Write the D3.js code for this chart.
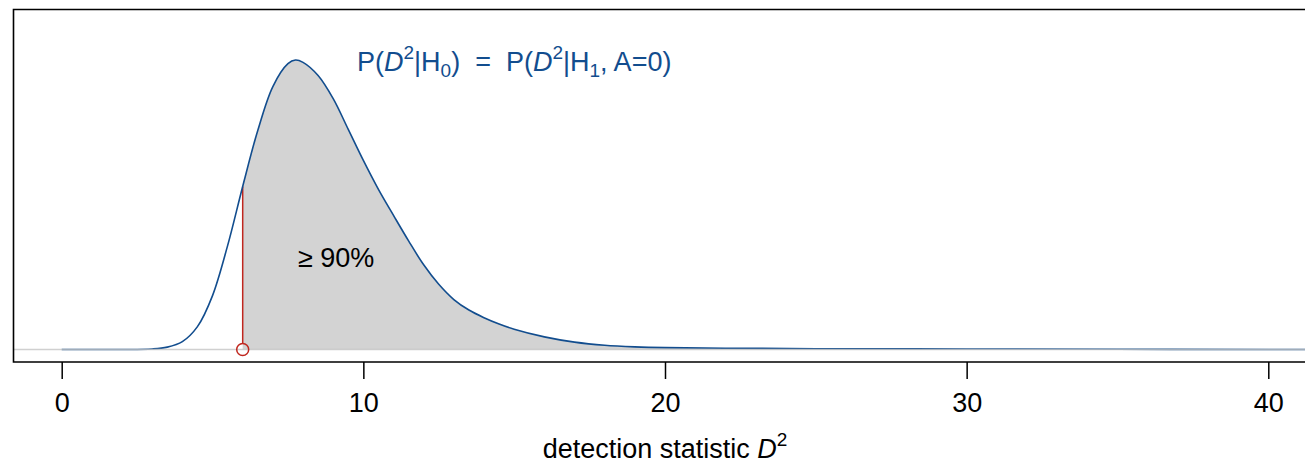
<!DOCTYPE html>
<html>
<head>
<meta charset="utf-8">
<script src="https://cdn.jsdelivr.net/npm/d3@7"></script>
<style>
  body { margin: 0; background: #fff; }
  svg { display: block; font-family: "Liberation Sans", Arial, Helvetica, sans-serif; }
</style>
</head>
<body>
<div id="chart"></div>
<script>
// density curve (x = D^2, y = density)
var xValues = [0, 1, 2, 3, 3.5, 4, 4.5, 5, 5.5, 6, 6.5, 7, 7.5, 7.75, 8, 8.5, 9, 9.5, 10, 10.5,
               11, 11.5, 12, 12.5, 13, 13.5, 14, 14.5, 15, 16, 17, 18, 19, 20, 22, 25, 30, 35, 40, 41.3];
var densValues = [0, 0, 0, 0.0002, 0.0009, 0.0030, 0.0087, 0.0205, 0.0395, 0.0620, 0.0833, 0.1000, 0.1087, 0.1101,
                  0.1092, 0.1042, 0.0954, 0.0837, 0.0719, 0.0609, 0.0510, 0.0413, 0.0322, 0.0248, 0.0190,
                  0.0150, 0.0121, 0.0097, 0.0077, 0.0048, 0.0028, 0.0016, 0.0010, 0.0007, 0.0005,
                  0.0003, 0.0002, 0.0001, 0, 0];
var threshold = 6;
var xTicks = [0, 10, 20, 30, 40];
var areaLabel = "\u2265 90%";

var W = 1305, H = 467;
var svg = d3.select("#chart").append("svg")
  .attr("width", W)
  .attr("height", H);

var x = d3.scaleLinear().domain([0, 40]).range([61.7, 1268.3]);
var y = d3.scaleLinear().domain([0, 0.1101]).range([349.5, 60]);

var data = xValues.map(function(d, i) { return {x: d, y: densValues[i]}; });

var curve = d3.curveCatmullRom.alpha(0.5);

// shaded tail above threshold
var thrY = densValues[xValues.indexOf(threshold)];
var tail = data.filter(function(d) { return d.x >= threshold; });
var area = d3.area().curve(curve)
  .x(function(d) { return x(d.x); })
  .y0(y(0))
  .y1(function(d) { return y(d.y); });
svg.append("path")
  .datum(tail)
  .attr("d", area)
  .attr("fill", "#d3d3d3");

// red marker at threshold
svg.append("line")
  .attr("x1", x(threshold)).attr("x2", x(threshold))
  .attr("y1", y(0) - 6).attr("y2", y(thrY))
  .attr("stroke", "#c0261e")
  .attr("stroke-width", 1.5);

// density line
var line = d3.line().curve(curve)
  .x(function(d) { return x(d.x); })
  .y(function(d) { return y(d.y); });
svg.append("path")
  .datum(data)
  .attr("d", line)
  .attr("fill", "none")
  .attr("stroke", "#124d8e")
  .attr("stroke-width", 1.6);

// zero line
svg.append("line")
  .attr("x1", 13).attr("x2", W)
  .attr("y1", y(0)).attr("y2", y(0))
  .attr("stroke", "#c4c4c4")
  .attr("stroke-opacity", 0.8)
  .attr("stroke-width", 1.5);

svg.append("circle")
  .attr("cx", x(threshold))
  .attr("cy", y(0))
  .attr("r", 6)
  .attr("fill", "none")
  .attr("stroke", "#c0261e")
  .attr("stroke-width", 1.5);

// box (open at the right side)
svg.append("path")
  .attr("d", "M" + W + ",9.5H13.5V362H" + W)
  .attr("fill", "none")
  .attr("stroke", "#000")
  .attr("stroke-width", 1.6);

// x axis
var axis = svg.append("g")
  .attr("transform", "translate(0,362)")
  .call(d3.axisBottom(x).tickValues(xTicks).tickSize(17).tickPadding(14).tickFormat(d3.format("d")));
axis.select(".domain").remove();
axis.selectAll(".tick line").attr("stroke", "#000").attr("stroke-width", 1.5);
axis.selectAll(".tick text")
  .attr("fill", "#000")
  .style("font-size", "27px")
  .style("font-family", "Liberation Sans, Arial, sans-serif");

// x label
var xl = svg.append("text")
  .attr("x", 665).attr("y", 458)
  .attr("text-anchor", "middle")
  .style("font-size", "27px")
  .attr("fill", "#000");
xl.append("tspan").text("detection statistic ");
xl.append("tspan").style("font-style", "italic").text("D");
xl.append("tspan").attr("dy", -12).style("font-size", "19px").text("2");

// area label
svg.append("text")
  .attr("x", 298).attr("y", 266.5)
  .style("font-size", "27px")
  .attr("fill", "#000")
  .text(areaLabel);

// title in blue
var t = svg.append("text")
  .attr("x", 357).attr("y", 71)
  .style("font-size", "27px")
  .attr("fill", "#124d8e")
  .attr("xml:space", "preserve");
function pd(sub) {
  t.append("tspan").text("P(");
  t.append("tspan").style("font-style", "italic").text("D");
  t.append("tspan").attr("dy", -12).style("font-size", "19px").text("2");
  t.append("tspan").attr("dy", 12).text("|H");
  t.append("tspan").attr("dy", 6).style("font-size", "19px").text(sub);
}
pd("0");
t.append("tspan").attr("dy", -6).text(")  =  ");
pd("1");
t.append("tspan").attr("dy", -6).text(", A=0)");
</script>
</body>
</html>
